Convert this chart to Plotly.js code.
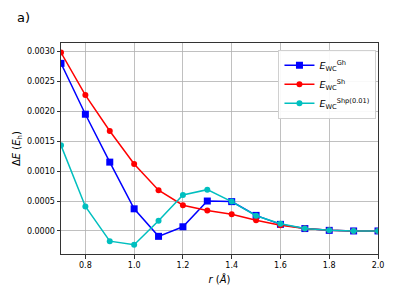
<!DOCTYPE html>
<html><head><meta charset="utf-8">
<script src="https://cdn.plot.ly/plotly-3.0.1.min.js"></script>
<style>html,body{margin:0;padding:0;background:#fff}#chart{width:394px;height:296px}</style>
</head><body><div id="chart"></div>
<script>
const r = [0.7, 0.8, 0.9, 1.0, 1.1, 1.2, 1.3, 1.4, 1.5, 1.6, 1.7, 1.8, 1.9, 2.0];
const eGh = [0.00280, 0.00195, 0.00115, 0.00037, -0.00009, 0.00007, 0.00050, 0.00049, 0.00026, 0.00011, 0.00004, 0.00001, 0.00000, 0.00000];
const eSh = [0.00298, 0.00227, 0.00167, 0.00112, 0.00068, 0.00043, 0.00034, 0.00028, 0.00018, 0.000095, 0.00004, 0.00001, 0.00000, 0.00000];
const eShp = [0.00143, 0.00041, -0.00017, -0.00023, 0.00017, 0.00060, 0.00069, 0.00049, 0.000255, 0.00012, 0.00004, 0.00001, 0.00000, 0.00000];
const yTicks = [0.0000, 0.0005, 0.0010, 0.0015, 0.0020, 0.0025, 0.0030];
const xTicks = [0.8, 1.0, 1.2, 1.4, 1.6, 1.8, 2.0];
const names = ["<i>E</i><sub>WC</sub><sup>Gh</sup>", "<i>E</i><sub>WC</sub><sup>Sh</sup>", "<i>E</i><sub>WC</sub><sup>Shp(0.01)</sup>"];

const font = "DejaVu Sans, sans-serif";
const traces = [
  {x: r, y: eGh, name: names[0], mode: "lines+markers", line: {color: "#0000ff", width: 1.5}, marker: {symbol: "square", size: 7, color: "#0000ff"}},
  {x: r, y: eSh, name: names[1], mode: "lines+markers", line: {color: "#ff0000", width: 1.5}, marker: {symbol: "circle", size: 6, color: "#ff0000"}},
  {x: r, y: eShp, name: names[2], mode: "lines+markers", line: {color: "#00bfbf", width: 1.5}, marker: {symbol: "circle", size: 6, color: "#00bfbf"}}
];
const layout = {
  width: 394, height: 296,
  margin: {l: 61, r: 16, t: 43, b: 42, pad: 0},
  paper_bgcolor: "#fff", plot_bgcolor: "#fff",
  font: {family: font, size: 8, color: "#000"},
  showlegend: true,
  legend: {x: 0.686, y: 0.968, xanchor: "left", yanchor: "top", bgcolor: "rgba(255,255,255,0.9)", bordercolor: "#d0d0d0", borderwidth: 1, font: {family: font, size: 9.5}, tracegroupgap: 2, itemwidth: 30},
  xaxis: {
    range: [0.7, 2.0], tickvals: xTicks, ticktext: xTicks.map(v => v.toFixed(1)),
    showgrid: true, gridcolor: "#b0b0b0", gridwidth: 0.8, zeroline: false,
    showline: true, linecolor: "#333", linewidth: 1, mirror: true,
    ticks: "outside", ticklen: 3.5, tickcolor: "#333",
    tickfont: {family: font, size: 8},
    title: {text: "<i>r</i> (<i>Å</i>)", font: {family: font, size: 10}, standoff: 6}
  },
  yaxis: {
    range: [-0.000385, 0.00314], tickvals: yTicks, ticktext: yTicks.map(v => v.toFixed(4)),
    showgrid: true, gridcolor: "#b0b0b0", gridwidth: 0.8, zeroline: false,
    showline: true, linecolor: "#333", linewidth: 1, mirror: true,
    ticks: "outside", ticklen: 3.5, tickcolor: "#333",
    tickfont: {family: font, size: 8},
    title: {text: "Δ<i>E</i> (<i>E</i><sub>h</sub>)", font: {family: font, size: 10}, standoff: 4}
  },
  annotations: [{text: "a)", xref: "paper", yref: "paper", x: -0.145, y: 1.123, xanchor: "left", yanchor: "middle", showarrow: false, font: {family: font, size: 13}}]
};
Plotly.newPlot("chart", traces, layout, {displayModeBar: false, staticPlot: true});
</script></body></html>
